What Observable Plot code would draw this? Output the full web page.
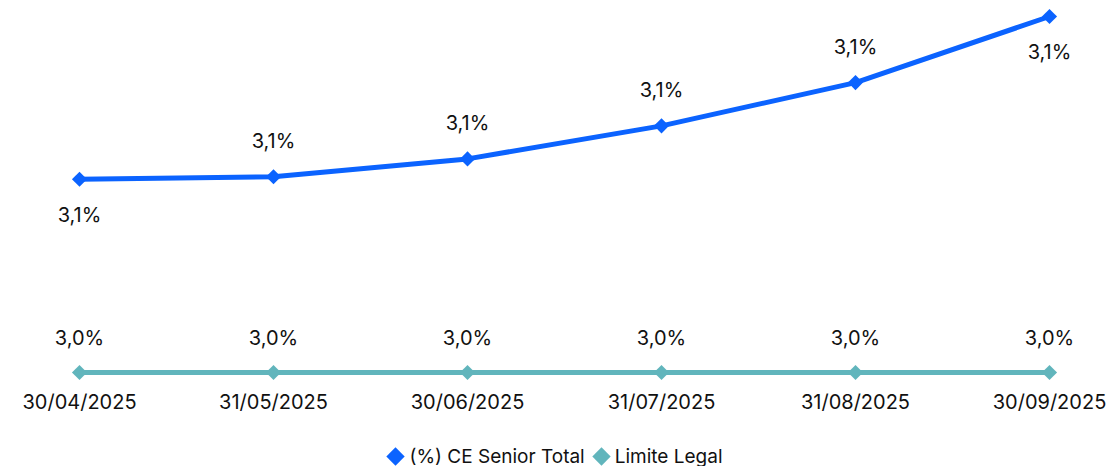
<!DOCTYPE html>
<html>
<head>
<meta charset="utf-8">
<script src="https://cdn.jsdelivr.net/npm/d3@7"></script>
<script src="https://cdn.jsdelivr.net/npm/@observablehq/plot@0.6"></script>
<style>
  body { margin: 0; background: #fff; font-family: Inter, "Liberation Sans", sans-serif; }
  #legend { display: flex; justify-content: center; gap: 10px; font-size: 19px; color: #111; height: 36px; padding-top: 8px; align-items: center; }
  .item { display: flex; align-items: center; gap: 4px; }
  .sw { width: 13px; height: 13px; transform: rotate(45deg); display: inline-block; margin-right: 3px; }
</style>
</head>
<body>
<div id="chart"></div>
<div id="legend"></div>
<script>
const dates = ["30/04/2025", "31/05/2025", "30/06/2025", "31/07/2025", "31/08/2025", "30/09/2025"];
const seniorValues = [3.076, 3.077, 3.084, 3.097, 3.114, 3.140];
const legalValues = [3.0, 3.0, 3.0, 3.0, 3.0, 3.0];
const seriesNames = ["(%) CE Senior Total", "Limite Legal"];
const seriesColors = ["#0b63ff", "#61b5bc"];
const seniorLabelBelow = [true, false, false, false, false, true];

const fmt = v => d3.format(".1f")(v).replace(".", ",") + "%";

const senior = dates.map((d, i) => ({date: d, value: seniorValues[i], below: seniorLabelBelow[i]}));
const legal = dates.map((d, i) => ({date: d, value: legalValues[i]}));

const chart = Plot.plot({
  width: 1112,
  height: 430,
  marginLeft: 78,
  marginRight: 63,
  marginTop: 16,
  marginBottom: 58,
  style: {fontFamily: "Inter, 'Liberation Sans', sans-serif", fontSize: "20px", color: "#111"},
  x: {type: "point", domain: dates, padding: 0},
  y: {domain: [3.0, 3.14], axis: null},
  marks: [
    Plot.axisX({tickSize: 0, tickPadding: 22, fontSize: 20, fill: "#111", label: null}),
    Plot.line(legal, {x: "date", y: "value", stroke: seriesColors[1], strokeWidth: 5}),
    Plot.line(senior, {x: "date", y: "value", stroke: seriesColors[0], strokeWidth: 5, curve: "linear"}),
    Plot.dot(legal, {x: "date", y: "value", symbol: "diamond2", r: 6.8, fill: seriesColors[1]}),
    Plot.dot(senior, {x: "date", y: "value", symbol: "diamond2", r: 6.8, fill: seriesColors[0]}),
    Plot.text(legal, {x: "date", y: "value", text: d => fmt(d.value), dy: -34, fontSize: 20, fill: "#111"}),
    Plot.text(senior.filter(d => d.below), {x: "date", y: "value", text: d => fmt(d.value), dy: 36, fontSize: 20, fill: "#111"}),
    Plot.text(senior.filter(d => !d.below), {x: "date", y: "value", text: d => fmt(d.value), dy: -35, fontSize: 20, fill: "#111"})
  ]
});
document.getElementById("chart").append(chart);

const legend = document.getElementById("legend");
seriesNames.forEach((name, i) => {
  const item = document.createElement("span");
  item.className = "item";
  const sw = document.createElement("span");
  sw.className = "sw";
  sw.style.background = seriesColors[i];
  item.append(sw, document.createTextNode(name));
  legend.append(item);
});
</script>
</body>
</html>
